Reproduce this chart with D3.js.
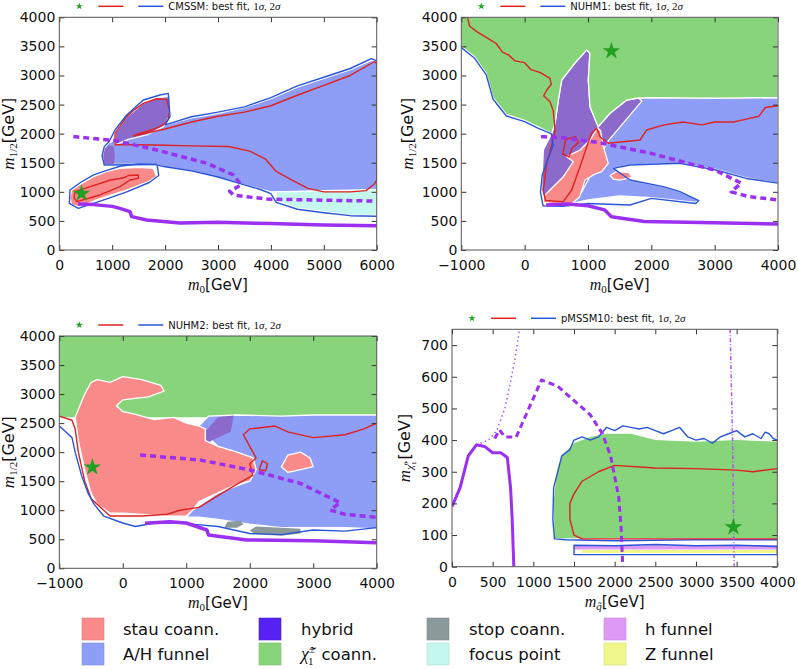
<!DOCTYPE html>
<html><head><meta charset="utf-8">
<script src="https://cdn.jsdelivr.net/npm/d3@7"></script>
<style>body{margin:0;background:#fff}svg{display:block}</style>
</head><body><svg id="c" width="798" height="669"></svg>
<script>
// ---------------- DATA ----------------
// CMSSM  (m0, m1/2)
const cmssmAH = [[850,1470],[1800,1470],[2000,1420],[2500,1350],[3000,1250],[3500,1120],[4000,1000],[6000,1000],[6000,3250],[5900,3260],[5500,3100],[5000,2950],[4500,2800],[4000,2600],[3500,2450],[3000,2350],[2500,2270],[2000,2150],[1500,2020],[1300,1950],[1053,1880],[950,1850],[860,1760],[820,1620]];
const cmssmHybridFinger = [[1053,1805],[1053,2006],[1274,2292],[1588,2521],[1866,2620],[2093,2640],[2076,2292],[1966,2120],[1652,1977],[1300,1900]];
const cmssmHybridPatch = [[850,1480],[1030,1480],[1050,1600],[1030,1780],[930,1800],[860,1740],[835,1620]];
const cmssmStau = [[234,1031],[400,1130],[647,1261],[900,1350],[1147,1404],[1500,1420],[1777,1404],[1840,1261],[1700,1180],[1274,1031],[1000,950],[706,860],[391,745],[234,774],[200,900]];
const cmssmFocus = [[4100,1000],[4600,1010],[5000,1020],[5500,1030],[6000,1040],[6000,600],[5500,600],[5000,660],[4500,720],[4100,850]];
const cmssmRed1 = [[296,1003],[589,1089],[966,1203],[1150,1230],[1250,1250],[1300,1280],[1493,1290],[1493,1232],[1336,1203],[1147,1089],[770,946],[330,831],[280,900]];
const cmssmRed2 = [[1053,1805],[1053,2006],[1274,2292],[1400,2400],[1588,2521],[1840,2600],[2030,2590],[2080,2406],[2060,2250],[1966,2150],[1800,2080],[1480,1990],[1400,1960],[1500,1980],[2000,2080],[2500,2200],[3000,2300],[3500,2370],[4000,2480],[4500,2660],[5000,2830],[5500,3000],[5960,3240],[6000,3200],[6000,1200],[5950,1130],[5800,1020],[5500,1000],[5000,1000],[4700,1060],[4400,1200],[4100,1350],[3900,1560],[3600,1700],[3200,1780],[2500,1790],[2000,1800],[1500,1810],[1100,1810]];
const cmssmBlue1 = [[1840,1470],[1500,1480],[1147,1440],[900,1370],[647,1290],[400,1160],[202,1031],[190,800],[359,716],[600,790],[900,880],[1274,1000],[1700,1160],[1880,1280],[1850,1460],[2000,1430],[2500,1360],[3000,1255],[3500,1120],[3800,1040],[4000,970],[4100,820],[4500,700],[5000,640],[5500,590],[6000,580]];
const cmssmBlue2 = [[1840,1470],[850,1460],[810,1620],[850,1777],[940,1860],[1053,2063],[1274,2320],[1588,2578],[1903,2664],[2060,2693],[2093,2292],[2000,2150],[2500,2290],[3000,2370],[3500,2460],[4000,2620],[4500,2820],[5000,2970],[5500,3120],[5900,3290],[6000,3250]];
const cmssmLimitSolid = [[350,790],[645,780],[1000,750],[1147,716],[1336,659],[1368,573],[1652,516],[2281,465],[3000,475],[4000,455],[5000,430],[6000,415]];
const cmssmLimitDashed = [[265,1950],[1050,1880],[1840,1720],[2790,1490],[3290,1290],[3440,1120],[3220,1010],[3290,945],[3920,875],[6000,840]];
const cmssmBest = [420,970];

// NUHM1
const nuhm1Green = [[-1000,4000],[4000,4000],[4000,2620],[3000,2610],[2000,2620],[1770,2610],[1611,2578],[1348,2350],[1163,2120],[1137,2178],[1032,2463],[1005,2922],[1030,3380],[980,3440],[790,3209],[585,2922],[532,2578],[480,2178],[427,2005],[0,2230],[-289,2330],[-500,2620],[-605,3030],[-789,3320],[-1000,3500]];
const nuhm1AH = [[700,790],[1000,860],[1500,930],[2000,900],[2700,820],[2750,860],[2452,1003],[2190,1089],[1663,1203],[1400,1404],[1663,1461],[2452,1490],[3000,1390],[3500,1240],[4000,1150],[4000,2620],[3000,2610],[2000,2620],[1770,2610],[1300,1850],[1100,1500],[900,1000]];
const nuhm1Hybrid = [[980,3440],[1030,3380],[1005,2922],[1032,2463],[1163,2120],[1348,2350],[1611,2578],[1800,2610],[1850,2560],[1300,1850],[1100,1400],[900,1000],[700,850],[295,900],[268,1031],[295,1719],[427,2005],[480,2178],[532,2578],[585,2922],[790,3209]];
const nuhm1Stau = [[295,917],[300,820],[500,790],[750,800],[870,917],[953,1203],[1100,1300],[1216,1347],[1321,1490],[1242,1776],[1200,2050],[1150,2100],[1032,1890],[874,1719],[664,1604],[769,1518],[611,1260],[400,1031]];
const nuhm1StauIsland = [[1350,1280],[1450,1350],[1650,1330],[1700,1250],[1500,1200],[1400,1220]];
const nuhm1Red = [[-900,4000],[-870,3850],[-750,3750],[-600,3650],[-450,3550],[-350,3400],[-250,3350],[-150,3250],[0,3220],[100,3100],[250,3050],[400,2950],[420,2850],[350,2750],[300,2650],[400,2550],[450,2400],[470,2200],[480,2050],[448,1891],[348,1490],[295,1031],[330,850],[611,831],[743,1031],[874,1432],[980,1776],[1059,2006],[1137,2092],[1190,1948],[1321,1834],[1822,1891],[1927,2063],[2200,2150],[2500,2200],[2800,2150],[3000,2200],[3300,2200],[3500,2250],[3700,2300],[3800,2450],[4000,2480]];
const nuhm1RedLoop = [[600,1650],[650,1900],[800,1950],[850,1850],[750,1750],[700,1600]];
const nuhm1Blue = [[-1000,3479],[-789,3295],[-605,3009],[-500,2596],[-289,2304],[0,2206],[200,2100],[420,2000],[450,1800],[280,1300],[250,1000],[290,760],[600,750],[1000,800],[1663,773],[2000,888],[2700,800],[2750,850],[2452,1003],[2190,1089],[1663,1203],[1400,1404],[1663,1461],[2452,1490],[3000,1380],[3500,1230],[4000,1150]];
const nuhm1LimitSolid = [[340,775],[680,790],[1000,760],[1260,690],[1370,570],[1890,490],[3000,470],[4000,447]];
const nuhm1LimitDashed = [[260,1950],[600,1930],[1160,1850],[2000,1660],[2580,1490],[3000,1375],[3420,1150],[3260,1000],[3530,920],[4000,860]];
const nuhm1Best = [1370,3420];

// NUHM2
const nuhm2Green = [[-1000,4000],[4000,4000],[4000,2600],[-1000,2600]];
const nuhm2AH = [[1200,2450],[1350,2620],[1800,2640],[2500,2620],[3000,2640],[4000,2640],[4000,680],[3500,700],[3000,700],[2500,700],[2000,760],[1500,840],[1200,880],[1000,880],[1100,1000],[1500,1300],[2000,1500],[2100,1700],[2050,1900],[1500,2100],[1300,2300]];
const nuhm2Hybrid = [[1300,2100],[1300,2350],[1500,2600],[1750,2630],[1700,2350],[1400,2200]];
const nuhm2Stau = [[-500,3200],[-400,3250],[-200,3200],[0,3300],[300,3250],[600,3150],[650,3050],[400,2950],[0,2900],[-100,2800],[0,2700],[200,2650],[500,2560],[800,2600],[1000,2500],[1200,2450],[1300,2400],[1300,2200],[1500,2100],[1800,2000],[2050,1900],[2100,1700],[2000,1500],[1800,1450],[1500,1300],[1200,1150],[1100,1000],[1000,900],[700,900],[300,930],[0,950],[-200,950],[-400,1100],[-500,1300],[-600,1700],[-700,2200],[-750,2600],[-600,3000]];
const nuhm2StauIsland = [[2500,1750],[2600,1950],[2800,2000],[2950,1900],[3000,1750],[2800,1700],[2600,1650]];
const nuhm2Stop1 = [[1600,700],[1650,800],[1850,820],[1900,760],[1800,700]];
const nuhm2Stop2 = [[2000,650],[2100,720],[2500,700],[2800,680],[2800,600],[2500,560],[2100,580]];
const nuhm2Red = [[-1000,2620],[-800,2550],[-750,2400],[-700,2000],[-600,1500],[-500,1200],[-300,1000],[-200,900],[300,900],[700,930],[900,1000],[1200,1050],[1500,1250],[1800,1450],[2050,1600],[2000,1800],[2100,1900],[2000,2100],[1900,2300],[2000,2400],[2400,2450],[2600,2350],[3000,2250],[3500,2300],[3800,2400],[4000,2500]];
const nuhm2RedLoop = [[2150,1700],[2200,1850],[2280,1800],[2250,1680]];
const nuhm2Blue = [[-1000,2450],[-900,2350],[-800,2250],[-750,2000],[-650,1600],[-550,1300],[-450,1100],[-300,900],[0,780],[200,720],[500,780],[800,780],[1000,770],[1500,720],[2000,600],[2500,580],[3000,660],[3500,640],[4000,700]];
const nuhm2LimitSolid = [[350,775],[745,803],[1000,780],[1325,660],[1350,574],[1955,488],[3000,475],[4000,442]];
const nuhm2LimitDashed = [[273,1951],[1220,1865],[2007,1693],[2795,1463],[3426,1130],[3268,1004],[3500,930],[4000,878]];
const nuhm2Best = [-480,1740];

// pMSSM10  (m_squark, m_neutralino)
const pmGreen = [[1260,90],[1250,200],[1280,280],[1350,350],[1500,390],[1700,410],[1900,420],[2200,420],[2500,400],[3000,395],[3500,400],[4000,395],[4000,90]];
const pmHFunnel = [[1500,54],[4000,54],[4000,68],[1500,68]];
const pmZFunnel = [[1600,43],[4000,43],[4000,53],[1600,53]];
const pmBlueA = [[4000,85],[3000,85],[2000,82],[1400,85],[1260,88],[1240,150],[1250,250],[1300,300],[1350,350],[1450,370],[1500,400],[1600,410],[1700,400],[1800,410],[1900,440],[2000,430],[2100,445],[2200,440],[2300,435],[2400,440],[2500,430],[2600,420],[2700,430],[2800,440],[2900,410],[3000,400],[3100,405],[3200,390],[3300,410],[3400,420],[3500,430],[3600,410],[3700,420],[3800,405],[3850,425],[3900,420],[3950,405],[4000,400]];
const pmBlueB = [[1500,38],[4000,38],[4000,64],[3500,68],[3000,66],[2500,70],[2000,66],[1500,68]];
const pmRed = [[4000,310],[3700,300],[3500,305],[3000,310],[2500,312],[2000,320],[1800,300],[1600,270],[1500,230],[1450,200],[1450,150],[1500,100],[1600,88],[2000,88],[4000,88]];
const pmLimitSolid = [[0,190],[100,250],[200,350],[300,385],[400,380],[500,360],[600,360],[680,345],[720,250],[740,150],[760,0]];
const pmLimitDashed = [[525,405],[585,432],[650,410],[790,410],[1100,590],[1300,570],[1700,480],[1850,420],[1950,350],[2050,220],[2080,120],[2100,0]];
const pmLimitDotted = [[350,390],[450,400],[550,430],[650,500],[700,560],[770,650],[830,750]];
const pmLimitDotted2 = [[3420,750],[3450,400],[3470,0]];
const pmBest = [3460,125];

// ticks
const ticksM0Wide = [0,1000,2000,3000,4000,5000,6000];
const ticksM0 = [-1000,0,1000,2000,3000,4000];
const ticksM12 = [0,500,1000,1500,2000,2500,3000,3500,4000];
const ticksMsq = [0,500,1000,1500,2000,2500,3000,3500,4000];
const ticksMchi = [0,100,200,300,400,500,600,700];

// legend
const legendLabels = ['stau coann.','A/H funnel','hybrid','chargino','stop coann.','focus point','h funnel','Z funnel'];
const legendColors = ['#fa8a8a','#8e9ef6','#5522f2','#88d47a','#8a9a9a','#c4f7ee','#dd99f4','#f0f78a'];

// ---------------- STYLES ----------------
const C = {stau:'#f98a8a', ah:'#8e9df5', hyb:'#8b6acb', green:'#88d47a', stop:'#8a9a9a', focus:'#c4f7ee', h:'#dd99f4', z:'#f0f78a',
  red:'#dd2222', blue:'#2a55d8', purple:'#9b30f0', star:'#22a022'};
const FONT = 'DejaVu Sans, sans-serif';
const MATH = 'Liberation Serif, DejaVu Serif, serif';

const svg = d3.select('#c');
const defs = svg.append('defs');

function drawPanel(cfg){
  const x = d3.scaleLinear().domain(cfg.xd).range([cfg.l,cfg.r]);
  const y = d3.scaleLinear().domain(cfg.yd).range([cfg.b,cfg.t]);
  defs.append('clipPath').attr('id','clip'+cfg.id).append('rect')
    .attr('x',cfg.l).attr('y',cfg.t).attr('width',cfg.r-cfg.l).attr('height',cfg.b-cfg.t);
  const g = svg.append('g');
  const pg = g.append('g').attr('clip-path',`url(#clip${cfg.id})`);
  const line = d3.line().x(d=>x(d[0])).y(d=>y(d[1]));
  cfg.fills.forEach(f=>{
    pg.append('path').attr('d',line(f[0])+'Z').attr('fill',f[1])
      .attr('stroke',f[2]===false?'none':'#fff').attr('stroke-width',1.3).attr('stroke-linejoin','round');
  });
  cfg.lines.forEach(l=>{
    pg.append('path').attr('d',line(l[0])+(l[4]?'Z':'')).attr('fill','none')
      .attr('stroke',l[1]).attr('stroke-width',l[2]).attr('stroke-dasharray',l[3]||null)
      .attr('stroke-linejoin','round');
  });
  pg.append('path').attr('d',d3.symbol(d3.symbolStar,95)())
    .attr('transform',`translate(${x(cfg.best[0])},${y(cfg.best[1])})`).attr('fill',C.star);

  // axes
  const fmt = d3.format('d');
  const ax = (gen,tr,lbl)=>{
    const a = g.append('g').attr('transform',tr).call(gen);
    a.select('.domain').remove();
    a.selectAll('.tick line').attr('stroke','#333');
    a.selectAll('text').attr('font-family',FONT).attr('font-size',14).attr('fill','#111');
    if(!lbl) a.selectAll('text').remove();
    return a;
  };
  ax(d3.axisBottom(x).tickValues(cfg.xt).tickFormat(fmt).tickSize(-5).tickPadding(10),`translate(0,${cfg.b})`,true);
  ax(d3.axisTop(x).tickValues(cfg.xt).tickSize(-5),`translate(0,${cfg.t})`,false);
  ax(d3.axisLeft(y).tickValues(cfg.yt).tickFormat(fmt).tickSize(-5).tickPadding(4),`translate(${cfg.l},0)`,true);
  ax(d3.axisRight(y).tickValues(cfg.yt).tickSize(-5),`translate(${cfg.r},0)`,false);
  g.append('rect').attr('x',cfg.l).attr('y',cfg.t).attr('width',cfg.r-cfg.l).attr('height',cfg.b-cfg.t)
    .attr('fill','none').attr('stroke','#555').attr('stroke-width',1);

  // axis labels
  const xl = g.append('text').attr('x',(cfg.l+cfg.r)/2).attr('y',cfg.b+cfg.xly).attr('text-anchor','middle')
    .attr('font-family',FONT).attr('font-size',15).attr('fill','#111');
  cfg.xlab(xl);
  const yl = g.append('text').attr('transform',`translate(${cfg.ylx},${(cfg.t+cfg.b)/2}) rotate(-90)`)
    .attr('text-anchor','middle').attr('font-family',FONT).attr('font-size',16).attr('fill','#111');
  cfg.ylab(yl);

  // top legend
  const lg = g.append('g');
  const ly = cfg.t - 11;
  lg.append('path').attr('d',d3.symbol(d3.symbolStar,16)()).attr('transform',`translate(${cfg.l+20},${ly})`).attr('fill',C.star);
  lg.append('line').attr('x1',cfg.l+39).attr('x2',cfg.l+64).attr('y1',ly).attr('y2',ly).attr('stroke',C.red).attr('stroke-width',1.5);
  lg.append('line').attr('x1',cfg.l+79).attr('x2',cfg.l+104).attr('y1',ly).attr('y2',ly).attr('stroke',C.blue).attr('stroke-width',1.5);
  const lt = lg.append('text').attr('x',cfg.l+109).attr('y',ly+3.5).attr('font-family',FONT).attr('font-size',10).attr('fill','#111');
  lt.append('tspan').text(cfg.name+': best fit, ');
  lt.append('tspan').attr('font-family',MATH).attr('font-size',11).text('1');
  lt.append('tspan').attr('font-family',MATH).attr('font-style','italic').attr('font-size',11).text('σ');
  lt.append('tspan').attr('font-family',MATH).attr('font-size',11).text(', 2');
  lt.append('tspan').attr('font-family',MATH).attr('font-style','italic').attr('font-size',11).text('σ');
}

function m0Label(t){
  t.append('tspan').attr('font-family',MATH).attr('font-style','italic').attr('font-size',16).text('m');
  t.append('tspan').attr('font-family',MATH).attr('font-size',11).attr('dy',3).text('0');
  t.append('tspan').attr('dy',-3).text('[GeV]');
}
function m12Label(t){
  t.append('tspan').attr('font-family',MATH).attr('font-style','italic').attr('font-size',17).text('m');
  t.append('tspan').attr('font-family',MATH).attr('font-size',11).attr('dy',3).text('1/2');
  t.append('tspan').attr('dy',-3).text('[GeV]');
}
function msqLabel(t){
  t.append('tspan').attr('font-family',MATH).attr('font-style','italic').attr('font-size',16).text('m');
  t.append('tspan').attr('font-family',MATH).attr('font-style','italic').attr('font-size',11).attr('dy',3).text('q̃');
  t.append('tspan').attr('dy',-3).text('[GeV]');
}
function mchiLabel(t){
  t.append('tspan').attr('font-family',MATH).attr('font-style','italic').attr('font-size',17).text('m');
  t.append('tspan').attr('font-family',MATH).attr('font-style','italic').attr('font-size',11).attr('dy',3).text('χ̃');
  t.append('tspan').attr('font-family',MATH).attr('font-size',7).attr('dy',-5).text('0');
  t.append('tspan').attr('font-family',MATH).attr('font-size',7).attr('dx',-3.5).attr('dy',8).text('1');
  t.append('tspan').attr('dy',-6).attr('dx',2).text('[GeV]');
}

drawPanel({id:1,name:'CMSSM',l:59.3,r:376.7,t:17.3,b:250,xd:[0,6000],yd:[0,4000],xt:ticksM0Wide,yt:ticksM12,
  xly:40,ylx:14,xlab:m0Label,ylab:m12Label,best:cmssmBest,
  fills:[[cmssmAH,C.ah],[cmssmFocus,C.focus],[cmssmStau,C.stau],[cmssmHybridFinger,C.hyb],[cmssmHybridPatch,C.hyb,false]],
  lines:[[cmssmRed1,C.red,1.4,null,true],[cmssmRed2,C.red,1.4,null,true],[cmssmBlue1,C.blue,1.4],[cmssmBlue2,C.blue,1.4],
    [cmssmLimitSolid,C.purple,3.5],[cmssmLimitDashed,C.purple,3.5,'6,4']]});

drawPanel({id:2,name:'NUHM1',l:461.3,r:778,t:17.3,b:250,xd:[-1000,4000],yd:[0,4000],xt:ticksM0,yt:ticksM12,
  xly:40,ylx:413,xlab:m0Label,ylab:m12Label,best:nuhm1Best,
  fills:[[nuhm1AH,C.ah],[nuhm1Hybrid,C.hyb],[nuhm1Stau,C.stau],[nuhm1StauIsland,C.stau],[nuhm1Green,C.green]],
  lines:[[nuhm1Red,C.red,1.4],[nuhm1RedLoop,C.red,1.4,null,true],[nuhm1Blue,C.blue,1.4],
    [nuhm1LimitSolid,C.purple,3.5],[nuhm1LimitDashed,C.purple,3.5,'6,4']]});

drawPanel({id:3,name:'NUHM2',l:59.3,r:376.7,t:336,b:568.3,xd:[-1000,4000],yd:[0,4000],xt:ticksM0,yt:ticksM12,
  xly:40,ylx:14,xlab:m0Label,ylab:m12Label,best:nuhm2Best,
  fills:[[nuhm2Green,C.green,false],[nuhm2AH,C.ah],[nuhm2Hybrid,C.hyb,false],[nuhm2Stau,C.stau],[nuhm2StauIsland,C.stau],
    [nuhm2Stop1,C.stop,false],[nuhm2Stop2,C.stop,false]],
  lines:[[nuhm2Red,C.red,1.4],[nuhm2RedLoop,C.red,1.4,null,true],[nuhm2Blue,C.blue,1.4],
    [nuhm2LimitSolid,C.purple,3.5],[nuhm2LimitDashed,C.purple,3.5,'6,4']]});

drawPanel({id:4,name:'pMSSM10',l:452,r:777.3,t:329.3,b:566.7,xd:[0,4000],yd:[0,750],xt:ticksMsq,yt:ticksMchi,
  xly:40,ylx:410,xlab:msqLabel,ylab:mchiLabel,best:pmBest,
  fills:[[pmGreen,C.green,false],[pmHFunnel,C.h,false],[pmZFunnel,C.z,false]],
  lines:[[pmBlueA,C.blue,1.4],[pmBlueB,C.blue,1.4,null,true],[pmRed,C.red,1.4],
    [pmLimitSolid,C.purple,3],[pmLimitDashed,C.purple,3,'6,4'],[pmLimitDotted,'#b055f0',1.5,'1.5,3'],[pmLimitDotted2,'#b055f0',1.5,'4,2,1,2']]});

// bottom legend
const colX = [[82,123],[259,301],[427,469],[604,645]];
legendLabels.forEach((lab,i)=>{
  const c = Math.floor(i/2), r = i%2;
  const yy = 618 + r*25;
  svg.append('rect').attr('x',colX[c][0]).attr('y',yy).attr('width',22).attr('height',22)
    .attr('fill',legendColors[i]).attr('stroke',d3.color(legendColors[i]).darker(0.3)).attr('stroke-width',0.6);
  const t = svg.append('text').attr('x',colX[c][1]).attr('y',yy+16.5).attr('font-family',FONT).attr('font-size',16.5).attr('fill','#111');
  if(lab==='chargino'){
    t.append('tspan').attr('font-family',MATH).attr('font-style','italic').attr('font-size',18).text('χ̃');
    t.append('tspan').attr('font-family',MATH).attr('font-size',11).attr('dy',-7).text('±');
    t.append('tspan').attr('font-family',MATH).attr('font-size',11).attr('dx',-7).attr('dy',12).text('1');
    t.append('tspan').attr('dy',-5).attr('dx',8).text('coann.');
  } else t.text(lab);
});
</script></body></html>
